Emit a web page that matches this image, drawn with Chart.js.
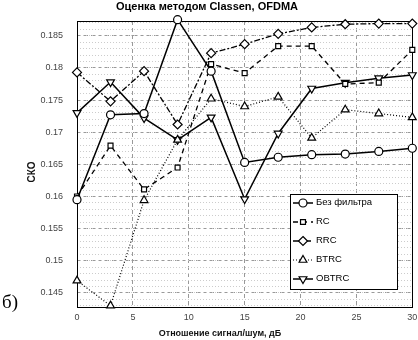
<!DOCTYPE html>
<html><head><meta charset="utf-8">
<script src="https://cdn.jsdelivr.net/npm/chart.js@4.4.1/dist/chart.umd.min.js"></script>
<style>html,body{margin:0;padding:0;background:#fff}canvas{display:block}</style>
</head><body><canvas id="c" width="418" height="340"></canvas>
<script>
const snr = [0,3,6,9,12,15,18,21,24,27,30];
const noFilter = [0.1595,0.1727,0.1729,0.1875,0.1795,0.1653,0.1661,0.1665,0.1666,0.1670,0.1675];
const rc = [0.1600,0.1679,0.1611,0.1645,0.1806,0.1792,0.1834,0.1834,0.1775,0.1777,0.1828];
const rrc = [0.1793,0.1748,0.1795,0.1712,0.1823,0.1837,0.1853,0.1863,0.1868,0.1869,0.1869];
const btrc = [0.1469,0.1430,0.1594,0.1688,0.1752,0.1740,0.1755,0.1691,0.1735,0.1729,0.1723];
const obtrc = [0.1730,0.1778,0.1722,0.1688,0.1723,0.1596,0.1698,0.1768,0.1777,0.1784,0.1789];
const seriesNames = ['Без фильтра','RC','RRC','BTRC','OBTRC'];
const yTicks = [0.145,0.15,0.155,0.16,0.165,0.17,0.175,0.18,0.185];
const xTicks = [0,5,10,15,20,25,30];
const titleText = 'Оценка методом Classen, OFDMA';
const xTitle = 'Отношение сигнал/шум, дБ';
const yTitle = 'СКО';
const panelLabel = 'б)';

const yMin = 0.1428, yMax = 0.1873;
const minorTicks = [];
for (let k = 143; k <= 187; k++) minorTicks.push(k / 1000);

const styles = [
  {dash: [], pointStyle: 'circle', r: 4, rot: 0, w: 1.5},
  {dash: [5, 4], pointStyle: 'rect', r: 3.5, rot: 0, w: 1.3},
  {dash: [6, 2, 2, 2], pointStyle: 'rectRot', r: 4.5, rot: 0, w: 1.3},
  {dash: [1, 2], pointStyle: 'triangle', r: 4.5, rot: 0, w: 1.2},
  {dash: [], pointStyle: 'triangle', r: 4.5, rot: 180, w: 1.5}
];
const seriesValues = [noFilter, rc, rrc, btrc, obtrc];

const datasets = seriesValues.map((vals, i) => ({
  label: seriesNames[i],
  data: snr.map((x, j) => ({x: x, y: vals[j]})),
  borderColor: '#000',
  borderWidth: styles[i].w,
  borderDash: styles[i].dash,
  pointStyle: styles[i].pointStyle,
  pointRadius: styles[i].r,
  pointRotation: styles[i].rot,
  pointBackgroundColor: '#fff',
  pointBorderColor: '#000',
  pointBorderWidth: 1.2,
  fill: false,
  tension: 0,
  clip: false
}));

function fmt(v) { return String(Number(v.toFixed(3))); }

function drawMarker(ctx, st, x, y) {
  ctx.save();
  ctx.setLineDash([]);
  ctx.lineWidth = 1.2;
  ctx.strokeStyle = '#000';
  ctx.fillStyle = '#fff';
  const r = st.r;
  ctx.beginPath();
  if (st.pointStyle === 'circle') {
    ctx.arc(x, y, r, 0, Math.PI * 2);
  } else if (st.pointStyle === 'rect') {
    const s = r * Math.SQRT1_2;
    ctx.rect(x - s, y - s, 2 * s, 2 * s);
  } else if (st.pointStyle === 'rectRot') {
    ctx.moveTo(x, y - r); ctx.lineTo(x + r, y); ctx.lineTo(x, y + r); ctx.lineTo(x - r, y); ctx.closePath();
  } else {
    const sgn = st.rot === 180 ? -1 : 1;
    ctx.moveTo(x, y - sgn * r);
    ctx.lineTo(x + r * 0.866, y + sgn * r * 0.5);
    ctx.lineTo(x - r * 0.866, y + sgn * r * 0.5);
    ctx.closePath();
  }
  ctx.fill();
  ctx.stroke();
  ctx.restore();
}

const decor = {
  id: 'decor',
  beforeDatasetsDraw(chart) {
    const {ctx, chartArea: a} = chart;
    ctx.save();
    ctx.strokeStyle = '#000';
    ctx.lineWidth = 1;
    ctx.setLineDash([]);
    ctx.strokeRect(Math.round(a.left) + 0.5, Math.round(a.top) + 0.5, Math.round(a.right - a.left), Math.round(a.bottom - a.top));
    ctx.restore();
  },
  afterDatasetsDraw(chart) {
    const {ctx} = chart;
    ctx.save();
    const bx = 290, by = 194, bw = 107, bh = 95;
    ctx.fillStyle = '#fff';
    ctx.fillRect(bx, by, bw, bh);
    ctx.strokeStyle = '#000';
    ctx.lineWidth = 1;
    ctx.strokeRect(bx + 0.5, by + 0.5, bw, bh);
    ctx.font = '9.5px "Liberation Sans", Arial, sans-serif';
    ctx.textBaseline = 'middle';
    ctx.textAlign = 'left';
    seriesNames.forEach((name, i) => {
      const y = 203 + i * 19;
      const st = styles[i];
      ctx.save();
      ctx.strokeStyle = '#000';
      ctx.lineWidth = st.w;
      ctx.setLineDash(st.dash);
      ctx.beginPath();
      ctx.moveTo(293, y); ctx.lineTo(313, y);
      ctx.stroke();
      ctx.restore();
      drawMarker(ctx, st, 303, y);
      ctx.fillStyle = '#000';
      ctx.fillText(name, 316, y - 1);
    });
    ctx.fillStyle = '#111';
    ctx.font = 'bold 9px "Liberation Sans", Arial, sans-serif';
    ctx.textAlign = 'center';
    ctx.fillText(xTitle, 220, 334);
    ctx.save();
    ctx.translate(32, 172);
    ctx.rotate(-Math.PI / 2);
    ctx.font = 'bold 10px "Liberation Sans", Arial, sans-serif';
    ctx.fillText(yTitle, 0, 0);
    ctx.restore();
    ctx.font = '19px "Liberation Serif", "DejaVu Serif", serif';
    ctx.textAlign = 'left';
    ctx.fillStyle = '#000';
    ctx.fillText(panelLabel, 2, 303);
    ctx.restore();
  }
};

new Chart(document.getElementById('c'), {
  type: 'line',
  data: {datasets: datasets},
  options: {
    responsive: false,
    animation: false,
    devicePixelRatio: 1,
    layout: {padding: {top: 0, right: 4, left: 0, bottom: 0}},
    plugins: {
      legend: {display: false},
      tooltip: {enabled: false},
      title: {
        display: true,
        text: titleText,
        color: '#000',
        font: {family: '"Liberation Sans", Arial, sans-serif', size: 11, weight: 'bold', lineHeight: 1.2},
        padding: {top: 0, bottom: 7.8}
      }
    },
    scales: {
      x: {
        type: 'linear',
        min: 0, max: 30,
        afterBuildTicks: s => { s.ticks = xTicks.map(v => ({value: v})); },
        afterFit: s => { s.height = 33; s.paddingRight = 0; s.paddingLeft = 0; },
        ticks: {color: '#444', padding: 5, font: {family: '"Liberation Sans", Arial, sans-serif', size: 9}, maxRotation: 0, callback: v => String(v)},
        grid: {color: '#999', lineWidth: 1, drawTicks: false},
        border: {display: false, dash: [4, 3]}
      },
      y: {
        type: 'linear',
        position: 'left',
        min: yMin, max: yMax,
        afterBuildTicks: s => { s.ticks = yTicks.map(v => ({value: v})); },
        afterFit: s => { s.width = 77; s.paddingTop = 0; s.paddingBottom = 0; },
        ticks: {color: '#444', padding: 14, font: {family: '"Liberation Sans", Arial, sans-serif', size: 9}, callback: v => fmt(v)},
        grid: {color: '#999', lineWidth: 1, drawTicks: false},
        border: {display: false, dash: [4, 3]}
      },
      yMinor: {
        type: 'linear',
        position: 'left',
        min: yMin, max: yMax,
        afterBuildTicks: s => { s.ticks = minorTicks.map(v => ({value: v})); },
        afterFit: s => { s.width = 0; s.paddingTop = 0; s.paddingBottom = 0; },
        ticks: {display: false},
        grid: {color: '#ccc', lineWidth: 1, drawTicks: false},
        border: {display: false, dash: [1, 2]}
      }
    }
  },
  plugins: [decor]
});
</script>
</body></html>
